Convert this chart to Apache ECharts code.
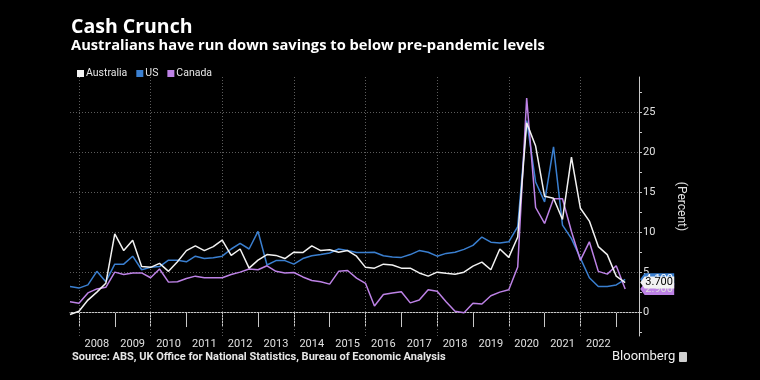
<!DOCTYPE html>
<html><head><meta charset="utf-8">
<script src="https://cdn.jsdelivr.net/npm/echarts@6/dist/echarts.min.js"></script>
<style>html,body{margin:0;padding:0;background:#000;}#c{width:760px;height:380px;}</style>
</head><body><div id="c"></div>
<script>
const quarters = ['2007-Q3','2007-Q4',
'2008-Q1','2008-Q2','2008-Q3','2008-Q4','2009-Q1','2009-Q2','2009-Q3','2009-Q4',
'2010-Q1','2010-Q2','2010-Q3','2010-Q4','2011-Q1','2011-Q2','2011-Q3','2011-Q4',
'2012-Q1','2012-Q2','2012-Q3','2012-Q4','2013-Q1','2013-Q2','2013-Q3','2013-Q4',
'2014-Q1','2014-Q2','2014-Q3','2014-Q4','2015-Q1','2015-Q2','2015-Q3','2015-Q4',
'2016-Q1','2016-Q2','2016-Q3','2016-Q4','2017-Q1','2017-Q2','2017-Q3','2017-Q4',
'2018-Q1','2018-Q2','2018-Q3','2018-Q4','2019-Q1','2019-Q2','2019-Q3','2019-Q4',
'2020-Q1','2020-Q2','2020-Q3','2020-Q4','2021-Q1','2021-Q2','2021-Q3','2021-Q4',
'2022-Q1','2022-Q2','2022-Q3','2022-Q4','2023-Q1'];
const australia = [-0.3,0.1,1.5,2.5,3.6,9.8,7.7,9.0,5.7,5.6,6.1,5.1,6.3,7.7,8.3,7.7,8.2,9.0,7.1,7.9,5.5,6.5,7.2,7.1,6.7,7.5,7.45,8.3,7.7,7.8,7.5,7.7,7.0,5.6,5.5,6.0,5.9,5.5,5.5,4.9,4.5,5.0,4.85,4.75,5.0,5.75,6.25,5.3,7.9,6.85,9.4,23.7,20.8,14.5,14.25,11.6,19.4,13.0,11.4,8.2,7.2,4.5,3.7];
const us = [3.2,3.0,3.4,5.1,3.8,6.0,6.0,7.0,5.3,5.6,5.7,6.5,6.5,6.3,7.0,6.7,6.8,7.0,7.9,8.6,7.9,10.1,5.9,6.45,6.45,6.0,6.7,7.05,7.2,7.4,7.9,7.7,7.45,7.45,7.5,7.05,6.9,6.85,7.2,7.7,7.5,7.0,7.35,7.5,7.85,8.35,9.4,8.75,8.65,8.8,10.7,24.0,16.3,13.8,20.7,10.9,9.2,6.75,4.3,3.2,3.2,3.4,4.1];
const canada = [1.3,1.1,2.4,2.9,3.1,5.0,4.7,4.9,4.9,4.3,5.4,3.75,3.8,4.2,4.5,4.3,4.3,4.3,4.7,5.0,5.4,5.3,5.8,5.1,4.9,4.95,4.4,3.95,3.8,3.5,5.1,5.2,4.25,3.6,0.75,2.2,2.4,2.55,1.15,1.5,2.8,2.6,1.3,0.1,-0.1,1.1,1.0,2.05,2.5,2.8,5.65,26.8,13.1,11.1,14.2,14.2,10.1,6.5,8.8,5.1,4.75,5.8,2.9];
const seriesNames = ['Australia','US','Canada'];
const yearTicks = [2008,2009,2010,2011,2012,2013,2014,2015,2016,2017,2018,2019,2020,2021,2022,2023];
const yearLabels = [2008,2009,2010,2011,2012,2013,2014,2015,2016,2017,2018,2019,2020,2021,2022];
const gridYears = [2008,2010,2012,2014,2016,2018,2020,2022];
const gridValues = [0,5,10,15,20,25];
const yTicks = [-2.5,0,2.5,5,7.5,10,12.5,15,17.5,20,22.5,25,27.5];
const yLabels = [0,5,10,15,20,25];

const colors = {Australia:'#f2f2f2', US:'#3a7fd0', Canada:'#bd82e6'};
const tagText = {Australia:'#000000', US:'#ffffff', Canada:'#dddddd'};
const tagZ = {Australia:9, US:7, Canada:8};

function qx(q){ const y=+q.slice(0,4), n=+q.slice(6); return y + n/4; }
const xs = quarters.map(qx);
const dataMap = {Australia: australia, US: us, Canada: canada};

function mkSeries(name, extra){
  const vals = dataMap[name];
  const last = vals.length-1;
  const s = {
    name, type:'line', data: vals.map((v,i)=>[xs[i], v]),
    showSymbol:false, symbol:'none', clip:false,
    lineStyle:{color:colors[name], width:1.5}, itemStyle:{color:colors[name]},
    emphasis:{disabled:true}, animation:false,
    markPoint:{
      z:tagZ[name],
      symbol:'path://M0,6 L5,0 L38,0 L38,12 L5,12 Z', symbolSize:[34,12], symbolKeepAspect:false,
      symbolOffset:[32,0], silent:true, animation:false,
      itemStyle:{color:colors[name]},
      label:{show:true, position:'inside', offset:[2,0], color:tagText[name], fontSize:11, fontFamily:'Roboto',
        formatter:p=>Number(p.value).toFixed(3)},
      data:[{coord:[xs[last], vals[last]], value: vals[last]}]
    }
  };
  return Object.assign(s, extra||{});
}

const chart = echarts.init(document.getElementById('c'));
chart.setOption({
  backgroundColor:'#000',
  animation:false,
  textStyle:{fontFamily:'Roboto'},
  grid:{left:70, right:121, top:77, bottom:44, containLabel:false},
  legend:{
    data:seriesNames, left:72, top:63, itemWidth:7, itemHeight:7, itemGap:9,
    icon:'rect', textStyle:{color:'#e6e6e6', fontSize:10.5, padding:[0,0,0,-3]}, selectedMode:false
  },
  xAxis:{
    type:'value', min:2007.75, max:2023.636,
    axisLine:{show:true, lineStyle:{color:'#c8c8c8', width:1}},
    axisTick:{show:true, customValues:yearTicks, length:15, lineStyle:{color:'#c8c8c8'}},
    axisLabel:{customValues:yearLabels.map(y=>y+0.5), formatter:v=>String(Math.floor(v)), color:'#e0e0e0', fontSize:11, margin:3},
    splitLine:{show:false}
  },
  yAxis:{
    type:'value', position:'right', min:-3, max:29.45,
    name:'(Percent)', nameLocation:'middle', nameRotate:-90, nameGap:36,
    nameTextStyle:{color:'#e0e0e0', fontSize:12},
    axisLine:{show:true, lineStyle:{color:'#c8c8c8', width:1}},
    axisTick:{show:true, customValues:yTicks, length:3, lineStyle:{color:'#c8c8c8'}},
    axisLabel:{customValues:yLabels, color:'#e0e0e0', fontSize:11, margin:4},
    splitLine:{show:false}
  },
  series:[
    mkSeries('US', {markLine:{
      silent:true, symbol:['none','none'], z:1, animation:false,
      label:{show:false},
      lineStyle:{color:'#5c5c5c', type:[1,2], width:1},
      data: gridYears.map(y=>({xAxis:y})).concat(gridValues.map(v=>({yAxis:v})))
    }}),
    mkSeries('Canada'),
    mkSeries('Australia')
  ],
  graphic:[
    {type:'text', left:71, top:17, style:{text:'Cash Crunch', fill:'#ffffff', font:'bold 19.5px "Open Sans"'}},
    {type:'text', left:71, top:38, style:{text:'Australians have run down savings to below pre-pandemic levels', fill:'#ffffff', font:'bold 14.7px "Open Sans"'}},
    {type:'text', left:72, top:352, style:{text:'Source: ABS, UK Office for National Statistics, Bureau of Economic Analysis', fill:'#e6e6e6', font:'bold 11px Roboto'}},
    {type:'text', left:612, top:350, style:{text:'Bloomberg', fill:'#f0f0f0', font:'13px Roboto'}},
    {type:'rect', left:679, top:352, shape:{width:8, height:10, r:1}, style:{fill:'#d0d0d0'}}
  ]
});
</script></body></html>
